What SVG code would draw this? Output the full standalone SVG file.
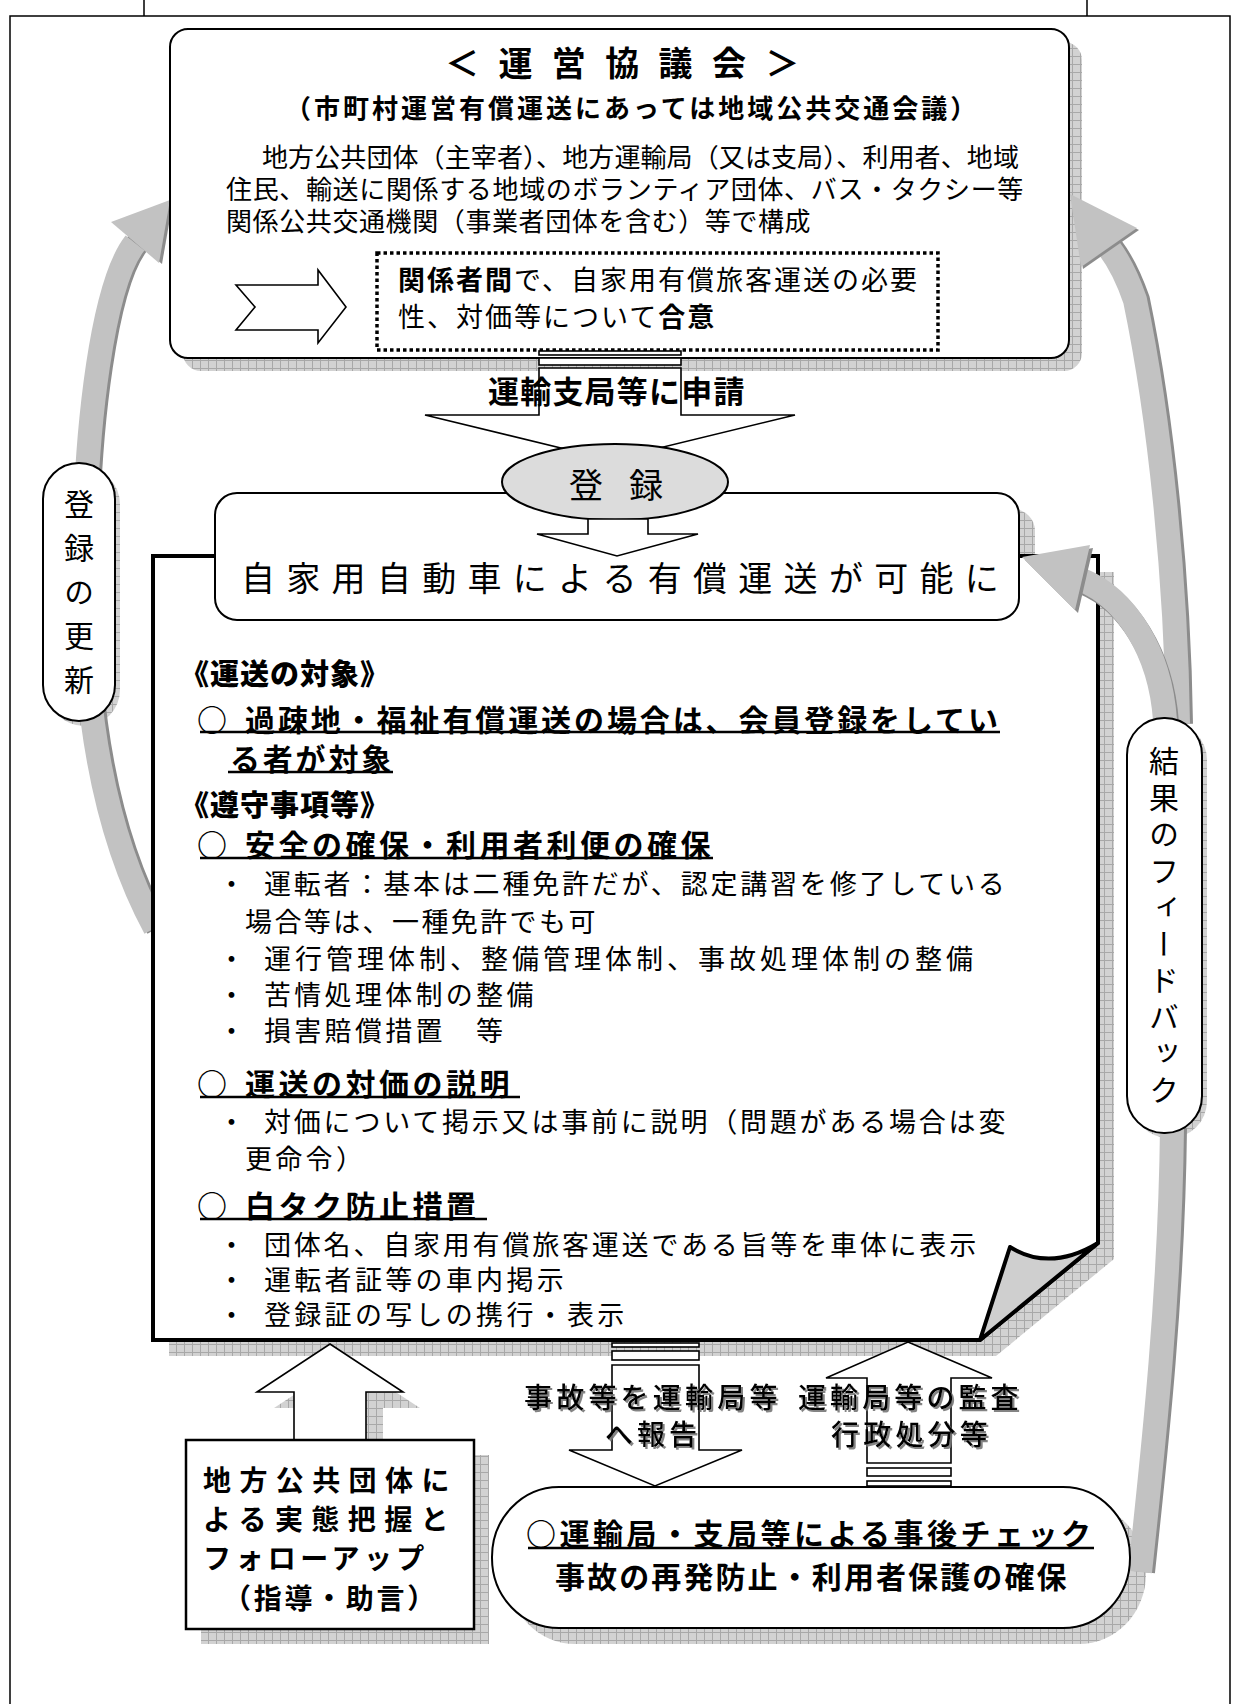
<svg xmlns="http://www.w3.org/2000/svg" width="1233" height="1704" viewBox="0 0 1233 1704">
<defs>
<pattern id="hatch" width="8" height="8" patternUnits="userSpaceOnUse"><rect width="8" height="8" fill="#d2d2d2"/><path d="M0,0.5H8M0.5,0V8" stroke="#a8a8a8" stroke-width="1"/></pattern>
<filter id="ts" x="-5%" y="-20%" width="115%" height="150%"><feDropShadow dx="2" dy="2" stdDeviation="0.6" flood-color="#777" flood-opacity="0.9"/></filter>
</defs>
<style>
text{font-family:"Noto Sans CJK JP","Noto Sans CJK SC",sans-serif;fill:#000;dominant-baseline:central}
.b{font-weight:700}
.sh{fill:url(#hatch);stroke:none}
.box{fill:#fff;stroke:#000;stroke-width:2}
.blk{fill:#fff;stroke:#000;stroke-width:1.6;stroke-linejoin:miter}
.band{fill:none;stroke:#c2c2c2;stroke-width:24}
.bandd{fill:none;stroke:#8c8c8c;stroke-width:24}
.head{fill:#c2c2c2;stroke:none}
.headd{fill:#8c8c8c;stroke:none}
.ul{stroke:#000;stroke-width:2.5}
.body{font-size:27px;letter-spacing:3.3px}
.hd{font-size:30px;font-weight:700;letter-spacing:3.5px}
.sec{font-size:29px;font-weight:900;letter-spacing:1px}
.lbl{font-size:28px;font-weight:500;filter:url(#ts)}
.lb{font-size:28px;font-weight:700}
.vt{font-size:30px;writing-mode:vertical-rl}
.cb{font-size:26px}
</style>

<g id="frame" fill="none" stroke="#000" stroke-width="1.5">
<path d="M10,1704 V16 H1230 V1704"/>
<path d="M144,0 V16 M1087,0 V16"/>
</g>

<g id="shadows">
<rect class="sh" x="183" y="42" width="899" height="329" rx="18"/>
<polygon class="sh" points="169,572 1114,572 1114,1259 996,1356 169,1356"/>
<rect class="sh" x="231" y="509" width="804" height="127" rx="22"/>
<rect class="sh" x="48" y="468" width="72" height="258" rx="36"/>
<rect class="sh" x="1132" y="723" width="75" height="415" rx="37"/>
<polygon class="sh" points="347,1360 420,1408 383,1408 383,1456 311,1456 311,1408 274,1408"/>
<rect class="sh" x="201" y="1455" width="288" height="189"/>
<rect class="sh" x="508" y="1503" width="638" height="141" rx="67" ry="70"/>
</g>

<g id="connectors-back" class="connectors">
<path class="bandd" transform="translate(3,0)" d="M155,928 C110,845 84,730 84,580 C84,420 104,282 135,243"/>
<path class="band" d="M155,928 C110,845 84,730 84,580 C84,420 104,282 135,243"/>
<polygon class="headd" transform="translate(3,1)" points="170,200 111,222 159,263"/>
<polygon class="head" points="170,200 111,222 159,263"/>
<path class="bandd" transform="translate(3,0)" d="M1172,1128 C1170,1300 1152,1460 1140,1572"/>
<path class="band" d="M1172,1128 C1170,1300 1152,1460 1140,1572"/>
</g>

<g id="doc">
<polygon points="153,556 1098,556 1098,1243 980,1340 153,1340" fill="#fff" stroke="#000" stroke-width="4" stroke-linejoin="miter"/>
<path d="M980,1340 L1010,1247 Q1050,1272 1098,1243 Z" fill="#cfcfcf" stroke="#000" stroke-width="4" stroke-linejoin="round"/>
<text x="180" y="672" class="sec">《運送の対象》</text>
<text y="718" class="hd"><tspan x="197">○</tspan><tspan x="245" style="letter-spacing:2.9px">過疎地・福祉有償運送の場合は、会員登録をしてい</tspan></text>
<line class="ul" x1="200" y1="732" x2="1000" y2="732"/>
<text x="230" y="757" class="hd" style="letter-spacing:2.8px">る者が対象</text>
<line class="ul" x1="228" y1="772" x2="393" y2="772"/>
<text x="180" y="803" class="sec">《遵守事項等》</text>
<text y="843" class="hd"><tspan x="197">○</tspan><tspan x="245">安全の確保・利用者利便の確保</tspan></text>
<line class="ul" x1="200" y1="858" x2="713" y2="858"/>
<text y="882" class="body"><tspan x="218">・</tspan><tspan x="264" style="letter-spacing:2.8px">運転者：基本は二種免許だが、認定講習を修了している</tspan></text>
<text x="245" y="920" class="body" style="letter-spacing:2.4px">場合等は、一種免許でも可</text>
<text y="957" class="body"><tspan x="218">・</tspan><tspan x="264" style="letter-spacing:4px">運行管理体制、整備管理体制、事故処理体制の整備</tspan></text>
<text y="993" class="body"><tspan x="218">・</tspan><tspan x="264">苦情処理体制の整備</tspan></text>
<text y="1029" class="body"><tspan x="218">・</tspan><tspan x="264">損害賠償措置　等</tspan></text>
<text y="1082" class="hd"><tspan x="197">○</tspan><tspan x="245">運送の対価の説明</tspan></text>
<line class="ul" x1="200" y1="1097" x2="520" y2="1097"/>
<text y="1120" class="body"><tspan x="218">・</tspan><tspan x="264" style="letter-spacing:2.8px">対価について掲示又は事前に説明（問題がある場合は変</tspan></text>
<text x="245" y="1157" class="body">更命令）</text>
<text y="1204" class="hd"><tspan x="197">○</tspan><tspan x="245">白タク防止措置</tspan></text>
<line class="ul" x1="200" y1="1219" x2="487" y2="1219"/>
<text y="1243" class="body"><tspan x="218">・</tspan><tspan x="264" style="letter-spacing:2.8px">団体名、自家用有償旅客運送である旨等を車体に表示</tspan></text>
<text y="1278" class="body"><tspan x="218">・</tspan><tspan x="264">運転者証等の車内掲示</tspan></text>
<text y="1313" class="body"><tspan x="218">・</tspan><tspan x="264">登録証の写しの携行・表示</tspan></text>
</g>

<g id="council">
<rect class="box" x="170" y="29" width="899" height="329" rx="18"/>
<text x="445" y="61" class="b" style="font-size:34px;letter-spacing:19.4px">＜運営協議会＞</text>
<text x="285" y="106" class="b" style="font-size:26px;letter-spacing:3px">（市町村運営有償運送にあっては地域公共交通会議）</text>
<text x="262" y="155" class="cb" style="letter-spacing:0.1px">地方公共団体（主宰者）、地方運輸局（又は支局）、利用者、地域</text>
<text x="226" y="187" class="cb" style="letter-spacing:0.65px">住民、輸送に関係する地域のボランティア団体、バス・タクシー等</text>
<text x="226" y="219" class="cb" style="letter-spacing:0.6px">関係公共交通機関（事業者団体を含む）等で構成</text>
<rect x="377" y="253" width="561" height="97" fill="#fff" stroke="#000" stroke-width="3.5" stroke-dasharray="3.5 3"/>
<text x="398" y="278" style="font-size:27px;letter-spacing:2px"><tspan class="b">関係者間</tspan>で、自家用有償旅客運送の必要</text>
<text x="398" y="315" style="font-size:27px;letter-spacing:2px">性、対価等について<tspan class="b">合意</tspan></text>
<polygon class="blk" points="236,285 318,285 318,270 346,307 318,343 318,330 236,330 255,307"/>
</g>

<g id="connectors-apply" class="connectors">
<rect class="blk" x="539" y="351" width="142" height="4"/>
<rect class="blk" x="539" y="358" width="142" height="7"/>
<polygon class="blk" points="539,368 681,368 681,415 795,415 610,460 425,415 539,415"/>
<text x="488" y="389" class="b" style="font-size:31px;letter-spacing:1.2px">運輸支局等に申請</text>
</g>

<g id="possible">
<rect class="box" x="215" y="493" width="804" height="127" rx="22"/>
<text x="241" y="576" style="font-size:34px;letter-spacing:11.3px">自家用自動車による有償運送が可能に</text>
</g>

<g id="register">
<ellipse cx="615" cy="482" rx="113" ry="38" fill="#dcdcdc" stroke="#000" stroke-width="2"/>
<text x="569" y="483" style="font-size:34px;letter-spacing:26px">登録</text>
</g>

<g id="connectors-front" class="connectors">
<polygon class="blk" points="588,519 648,519 648,534 698,534 617,556 537,534 588,534"/>
<path class="bandd" transform="translate(3,0)" d="M1178,724 C1176,580 1160,420 1135,300 Q1124,268 1109,248"/>
<path class="band" d="M1178,724 C1176,580 1160,420 1135,300 Q1124,268 1109,248"/>
<polygon class="headd" transform="translate(2,2)" points="1070,194 1137,228 1081,267"/>
<polygon class="head" points="1070,194 1137,228 1081,267"/>
<path class="bandd" transform="translate(2,3)" d="M1165,720 C1160,650 1125,598 1082,580"/>
<path class="band" d="M1165,720 C1160,650 1125,598 1082,580"/>
<polygon class="headd" transform="translate(3,3)" points="1022,557 1090,545 1075,610"/>
<polygon class="head" points="1022,557 1090,545 1075,610"/>
<polygon class="blk" points="330,1344 403,1392 366,1392 366,1440 294,1440 294,1392 257,1392"/>
<rect class="blk" x="612" y="1343" width="87" height="4"/>
<rect class="blk" x="612" y="1351" width="87" height="9"/>
<polygon class="blk" points="612,1365 699,1365 699,1450 742,1450 655,1486 569,1450 612,1450"/>
<polygon class="blk" points="908,1342 992,1378 951,1378 951,1463 867,1463 867,1378 826,1378"/>
<rect class="blk" x="867" y="1468" width="84" height="8"/>
<rect class="blk" x="867" y="1481" width="84" height="5"/>
<text x="524" y="1396" class="lbl" style="letter-spacing:4.2px">事故等を運輸局等</text>
<text x="605" y="1433" class="lbl" style="letter-spacing:4px">へ報告</text>
<text x="798" y="1396" class="lbl" style="letter-spacing:4.1px">運輸局等の監査</text>
<text x="831" y="1433" class="lbl" style="letter-spacing:4.2px">行政処分等</text>
</g>

<g id="renewal">
<rect class="box" x="43" y="463" width="72" height="258" rx="36"/>
<text x="79" y="489" class="vt" style="letter-spacing:14px">登録の更新</text>
</g>

<g id="feedback">
<rect class="box" x="1127" y="718" width="75" height="415" rx="37"/>
<text x="1164" y="746" class="vt" style="letter-spacing:6.5px">結果のフィードバック</text>
</g>

<g id="local-gov">
<rect x="186" y="1440" width="288" height="189" fill="#fff" stroke="#000" stroke-width="2.5"/>
<text x="203" y="1479" class="lb" style="letter-spacing:8.4px">地方公共団体に</text>
<text x="203" y="1518" class="lb" style="letter-spacing:8.4px">よる実態把握と</text>
<text x="203" y="1557" class="lb" style="letter-spacing:4.4px">フォローアップ</text>
<text x="223" y="1597" class="lb" style="letter-spacing:2.7px">（指導・助言）</text>
</g>

<g id="check">
<rect class="box" x="492" y="1487" width="638" height="141" rx="67" ry="70"/>
<text x="526" y="1532" class="b" style="font-size:30px;letter-spacing:3.5px">○運輸局・支局等による事後チェック</text>
<line class="ul" x1="528" y1="1548" x2="1094" y2="1548"/>
<text x="555" y="1575" class="b" style="font-size:30px;letter-spacing:2.1px">事故の再発防止・利用者保護の確保</text>
</g>
</svg>
